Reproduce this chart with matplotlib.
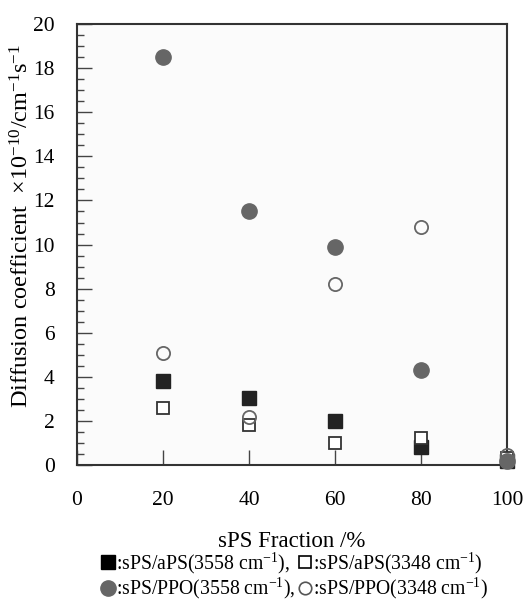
import numpy as np
import matplotlib.pyplot as plt
from matplotlib.ticker import MultipleLocator

plt.rcParams['font.family'] = ['Liberation Serif', 'DejaVu Serif']
plt.rcParams['mathtext.fontset'] = 'custom'
plt.rcParams['mathtext.rm'] = 'Liberation Serif'
plt.rcParams['mathtext.it'] = 'Liberation Serif:italic'

# sPS fraction (%)
fraction = np.array([20, 40, 60, 80, 100])

# diffusion coefficients (x10^-10 cm^-1 s^-1)
aps_3558 = np.array([3.8, 3.05, 2.0, 0.82, 0.2])
aps_3348 = np.array([2.6, 1.8, 1.0, 1.22, 0.3])
ppo_3558 = np.array([18.5, 11.5, 9.9, 4.3, 0.2])
ppo_3348 = np.array([5.1, 2.2, 8.2, 10.8, 0.45])

fig = plt.figure(figsize=(5.26, 6.04), dpi=100)
ax = fig.add_axes([0.1464, 0.2301, 0.8175, 0.730])
ax.set_facecolor('#fbfbfb')

h1, = ax.plot(fraction, aps_3558, 's', ms=10.5, color='#222222', mec='#222222', clip_on=False, zorder=3)
h2, = ax.plot(fraction, aps_3348, 's', ms=9, mfc='white', mec='#333333', mew=1.3, clip_on=False, zorder=3)
h3, = ax.plot(fraction, ppo_3558, 'o', ms=11, color='#666666', clip_on=False, zorder=4)
h4, = ax.plot(fraction, ppo_3348, 'o', ms=9.5, mfc='none', mec='#666666', mew=1.3, clip_on=False, zorder=4)

ax.set_xlim(0, 100)
ax.set_ylim(0, 20)
ax.xaxis.set_major_locator(MultipleLocator(20))
ax.yaxis.set_major_locator(MultipleLocator(2))
ax.yaxis.set_minor_locator(MultipleLocator(0.5))
ax.tick_params(axis='x', direction='in', length=11, width=1, pad=19, labelsize=15.5, color='#444444')
ax.tick_params(axis='y', which='major', direction='in', length=11, width=1, pad=16, labelsize=15.5, color='#444444')
ax.tick_params(axis='y', which='minor', direction='in', length=5, width=1, color='#444444')
for s in ax.spines.values():
    s.set_linewidth(1.5)
    s.set_color('#333333')

ax.set_xlabel('sPS Fraction /%', fontsize=16.5, labelpad=15)
ax.set_ylabel('Diffusion coefficient  ×10$^{-10}$/cm$^{-1}$s$^{-1}$', fontsize=17.5)
ax.yaxis.set_label_coords(-0.102, 0.542)

# legend handles: smaller glyph-like markers
lh1, = ax.plot([], [], 's', ms=10.5, color='black')
lh2, = ax.plot([], [], 's', ms=8.5, mfc='white', mec='black', mew=1.2)
lh3, = ax.plot([], [], 'o', ms=11, color='#666666')
lh4, = ax.plot([], [], 'o', ms=9, mfc='white', mec='#555555', mew=1.2)

fig.legend([lh1, lh3, lh2, lh4],
           [':sPS/aPS(3558 cm$^{-1}$),', ':sPS/PPO(3558 cm$^{-1}$),',
            ':sPS/aPS(3348 cm$^{-1}$)', ':sPS/PPO(3348 cm$^{-1}$)'],
           ncol=2, loc='upper center', bbox_to_anchor=(0.56, 0.088),
           frameon=False, fontsize=14.2, handlelength=0.7, handletextpad=0.05,
           columnspacing=0.1, labelspacing=0.0, borderaxespad=0, borderpad=0)

fig.savefig('out.png', dpi=100)
